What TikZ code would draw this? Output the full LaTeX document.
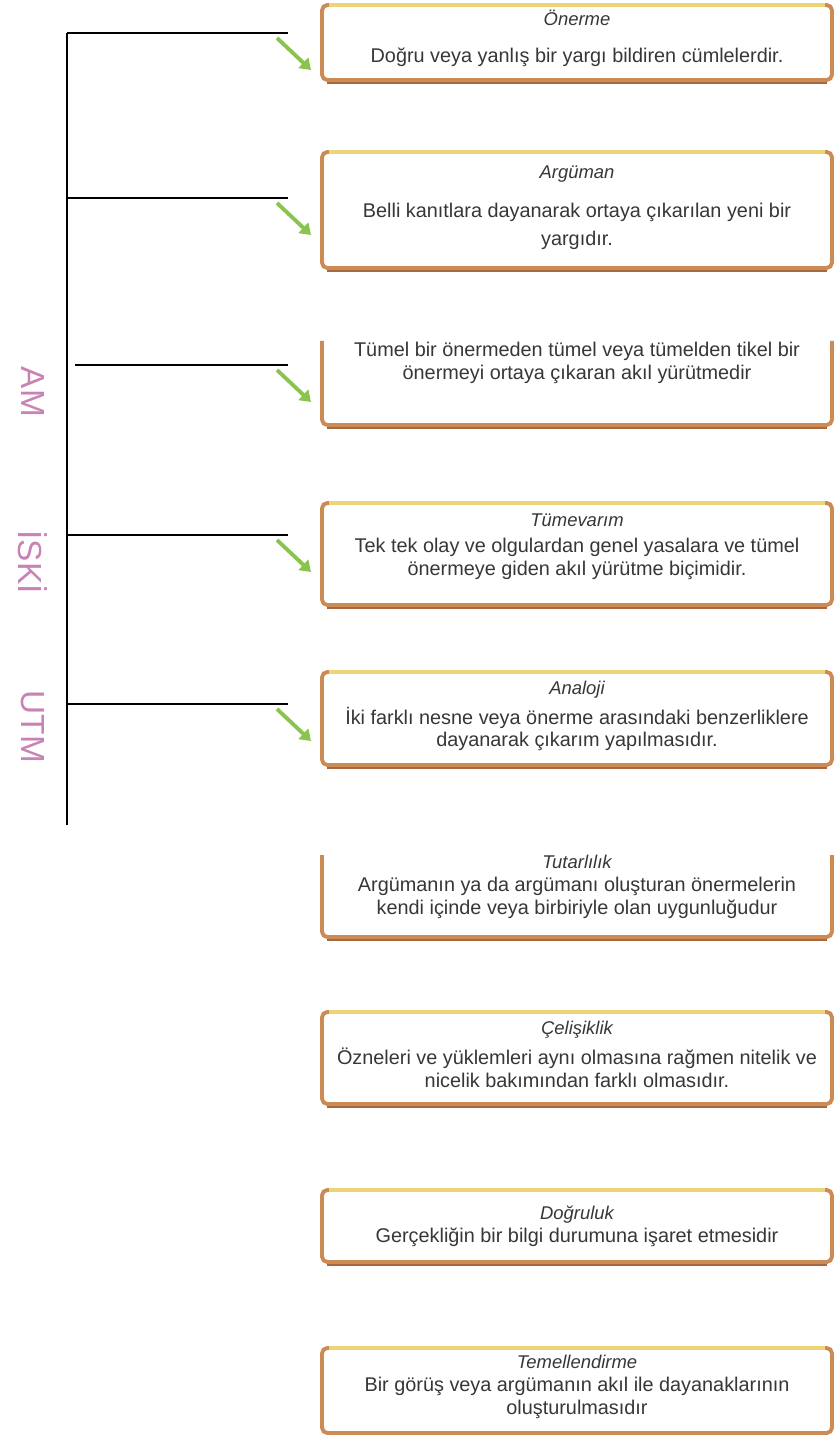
\documentclass[tikz,border=0pt]{standalone}
\usepackage{fontspec}
\setmainfont{Liberation Sans}
\usetikzlibrary{positioning,calc,arrows.meta}
\definecolor{cardbrown}{RGB}{204,138,84}
\definecolor{cardshade}{RGB}{168,104,62}
\definecolor{cardgold}{RGB}{238,212,120}
\definecolor{arrowgreen}{RGB}{138,196,78}
\definecolor{labelpink}{RGB}{200,130,180}
\definecolor{inkgray}{RGB}{55,55,55}
\tikzset{
  card/.style      = {draw=cardbrown, line width=2.2pt, rounded corners=3pt, fill=white,
                      minimum width=10.2cm, inner sep=0pt, outer sep=0pt},
  opencard/.style  = {fill=white, minimum width=10.2cm, inner sep=0pt, outer sep=0pt},
  cardedge/.style  = {draw=cardbrown, line width=2.2pt, rounded corners=3pt},
  cardtop/.style   = {draw=cardgold, line width=2.2pt},
  shade/.style     = {draw=cardshade, line width=1.2pt},
  cardtitle/.style = {font=\fontsize{10.5}{12}\selectfont\itshape, text=inkgray, inner sep=0pt},
  cardtext/.style  = {font=\fontsize{11.3}{12.8}\selectfont, text=inkgray, align=center, inner sep=0pt},
  branch/.style    = {line width=0.8pt},
  hint/.style      = {draw=arrowgreen, line width=2.2pt, -{Triangle[length=6pt,width=8pt]}},
  sidelabel/.style = {font=\fontsize{19}{19}\selectfont, text=labelpink, rotate=-90, inner sep=0pt}
}
\newcommand{\DrawCard}[7]{%
  % frame with gold top and shadow
  \node[card, minimum height={(#3-#2)*0.02cm}] (#1) at (577,{(#2+#3)/2}) {};
  \draw[cardtop] ([xshift=4pt]#1.north west) -- ([xshift=-4pt]#1.north east);
  \draw[shade] ([xshift=3pt,yshift=-1.6pt]#1.south west) -- ([xshift=-3pt,yshift=-1.6pt]#1.south east);
  % title and body
  \node[cardtitle] (#1t) at (577,#4) {#5};
  \node[cardtext]  (#1b) at (577,#6) {#7};
}
\newcommand{\DrawOpenCard}[7]{%
  % frame without top edge
  \node[opencard, minimum height={(#3-#2)*0.02cm}] (#1) at (577,{(#2+#3)/2}) {};
  \draw[cardedge] (#1.north west) -- (#1.south west) -- (#1.south east) -- (#1.north east);
  \draw[shade] ([xshift=3pt,yshift=-1.6pt]#1.south west) -- ([xshift=-3pt,yshift=-1.6pt]#1.south east);
  \node[cardtitle] (#1t) at (577,#4) {#5};
  \node[cardtext]  (#1b) at (577,#6) {#7};
}

\begin{document}
\begin{tikzpicture}[x=0.02cm,y=-0.02cm]
  \useasboundingbox (0,0) rectangle (835,1435);

  % tree on the left
  \coordinate (trunktop) at (67,33);
  \coordinate (trunkend) at (67,825);
  \draw[branch] (trunktop) -- (trunkend);
  \foreach \i/\x/\y in {1/67/33,2/67/198,3/75/365,4/67/535,5/67/704}{
    \coordinate (fork\i) at (\x,\y);
    \coordinate (tip\i)  at (288,\y);
    \draw[branch] (fork\i) -- (tip\i);
    \coordinate (hs\i) at (277,\y+5);
    \coordinate (he\i) at (311,\y+37);
    \draw[hint] (hs\i) -- (he\i);
  }

  % side labels
  \node[sidelabel] (sl1) at (33,392) {AM};
  \node[sidelabel] (sl2) at (33,562) {İSKİ};
  \node[sidelabel] (sl3) at (33,727) {UTM};

  % cards
  \DrawCard{c1}{5}{80}{18}{Önerme}{57}
    {Doğru veya yanlış bir yargı bildiren cümlelerdir.}
  \DrawCard{c2}{152}{268}{174}{Argüman}{226}
    {Belli kanıtlara dayanarak ortaya çıkarılan yeni bir\\[3pt]yargıdır.}
  \DrawOpenCard{c3}{341}{425}{341}{}{363}
    {Tümel bir önermeden tümel veya tümelden tikel bir\\önermeyi ortaya çıkaran akıl yürütmedir}
  \DrawCard{c4}{503}{605}{520}{Tümevarım}{559}
    {Tek tek olay ve olgulardan genel yasalara ve tümel\\önermeye giden akıl yürütme biçimidir.}
  \DrawCard{c5}{672}{765}{690}{Analoji}{729}
    {İki farklı nesne veya önerme arasındaki benzerliklere\\dayanarak çıkarım yapılmasıdır.}
  \DrawOpenCard{c6}{855}{937}{862}{Tutarlılık}{898}
    {Argümanın ya da argümanı oluşturan önermelerin\\kendi içinde veya birbiriyle olan uygunluğudur}
  \DrawCard{c7}{1012}{1104}{1030}{Çelişiklik}{1068}
    {Özneleri ve yüklemleri aynı olmasına rağmen nitelik ve\\nicelik bakımından farklı olmasıdır.}
  \DrawCard{c8}{1190}{1262}{1215}{Doğruluk}{1237}
    {Gerçekliğin bir bilgi durumuna işaret etmesidir}
  \DrawCard{c9}{1348}{1433}{1362}{Temellendirme}{1398}
    {Bir görüş veya argümanın akıl ile dayanaklarının\\oluşturulmasıdır}
\end{tikzpicture}
\end{document}
